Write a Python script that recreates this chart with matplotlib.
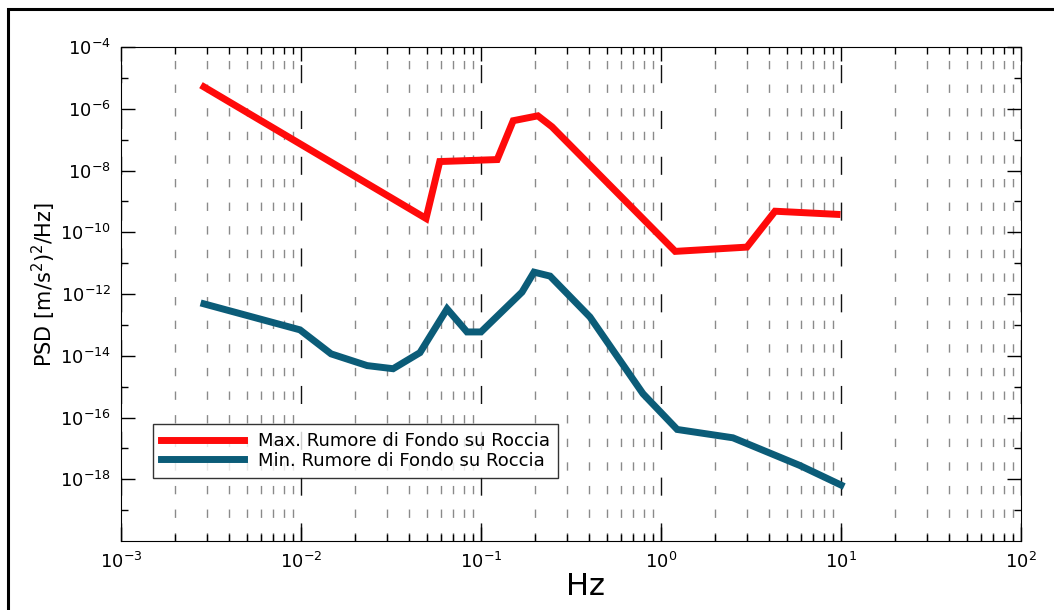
import matplotlib
matplotlib.use("Agg")
import matplotlib.pyplot as plt
from matplotlib.patches import Rectangle
from matplotlib.ticker import LogLocator, NullFormatter, FixedLocator

# frequency [Hz] and PSD values
freq_max = [0.00289, 0.0495, 0.059, 0.123, 0.151, 0.207, 0.248, 1.2, 3.0, 4.3, 9.5]
psd_max = [5.1e-6, 2.8e-10, 1.95e-8, 2.26e-8, 4.1e-7, 5.9e-7, 2.6e-7, 2.4e-11, 3.3e-11, 4.8e-10, 3.8e-10]

freq_min = [0.00289, 0.00987, 0.0147, 0.0233, 0.0325, 0.0458, 0.0648, 0.0836, 0.1,
            0.169, 0.197, 0.242, 0.403, 0.794, 1.23, 2.51, 5.9, 10.0]
psd_min = [4.8e-13, 6.9e-14, 1.15e-14, 4.8e-15, 3.8e-15, 1.26e-14, 3.3e-13, 5.9e-14, 5.9e-14,
           1.15e-12, 5.1e-12, 3.8e-12, 1.8e-13, 5.9e-16, 4.1e-17, 2.2e-17, 2.8e-18, 6.5e-19]

label_max = "Max. Rumore di Fondo su Roccia"
label_min = "Min. Rumore di Fondo su Roccia"

fig = plt.figure(figsize=(10.54, 6.10), dpi=100)
ax = fig.add_axes([121/1054, 1 - 541/610, 900/1054, 494/610])

ax.plot(freq_max, psd_max, color="#ff0a0a", lw=5, solid_joinstyle="miter", label=label_max)
ax.plot(freq_min, psd_min, color="#0b5c78", lw=5, solid_joinstyle="miter", label=label_min)

ax.set_xscale("log")
ax.set_yscale("log")
ax.set_xlim(1e-3, 1e2)
ax.set_ylim(1e-20, 1e-4)

# x ticks: decades + minor 2..9
ax.xaxis.set_major_locator(LogLocator(base=10, numticks=20))
ax.xaxis.set_minor_locator(LogLocator(base=10, subs=range(2, 10), numticks=20))
ax.xaxis.set_minor_formatter(NullFormatter())

# y ticks: labelled even decades, short ticks at odd decades
ax.yaxis.set_major_locator(FixedLocator([10.0**e for e in range(-18, -3, 2)]))
ax.yaxis.set_minor_locator(FixedLocator([10.0**e for e in range(-19, -4, 2)]))
ax.yaxis.set_minor_formatter(NullFormatter())

ax.tick_params(which="both", direction="in", top=True, right=True, labelsize=13, pad=8)
ax.tick_params(axis="y", pad=7)
ax.tick_params(which="major", length=10, width=1)
ax.tick_params(which="minor", length=5, width=1)

ax.grid(True, which="minor", axis="x", color="#8a8a8a", lw=1, ls=(0, (6, 11)))
ax.grid(True, which="major", axis="x", color="#111111", lw=1, ls=(0, (13, 20)))

ax.set_ylabel("PSD [m/s$^2$)$^2$/Hz]", fontsize=15, va="center")
ax.yaxis.set_label_coords(-0.086, 0.52)
ax.set_xlabel("Hz", fontsize=22, va="center")
ax.xaxis.set_label_coords(0.516, -0.093)

leg = ax.legend(loc="lower left", bbox_to_anchor=(0.035, 0.128), fontsize=13,
                handlelength=4.6, frameon=True, fancybox=False, borderpad=0.45,
                labelspacing=0.1, borderaxespad=0)
leg.get_frame().set_edgecolor("black")
leg.get_frame().set_linewidth(1)

# outer frame around the figure
fig.patches.append(Rectangle((8/1054, -0.2), 1.2, 1.2 - 8.5/610,
                             transform=fig.transFigure, fill=False, lw=2.2,
                             edgecolor="black", figure=fig))

fig.savefig("out.png", dpi=100)
